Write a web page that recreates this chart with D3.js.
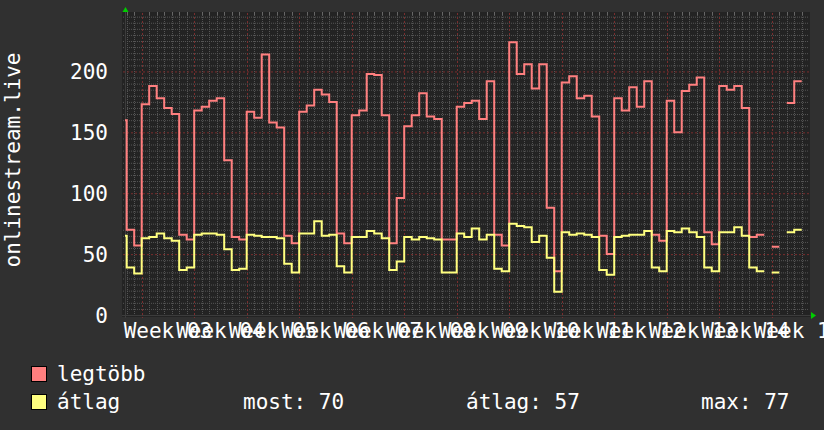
<!DOCTYPE html>
<html>
<head>
<meta charset="utf-8">
<script src="https://cdn.jsdelivr.net/npm/d3@7/dist/d3.min.js"></script>
<style>
  html, body { margin: 0; padding: 0; background: #303030; }
  svg { display: block; }
  text { font-family: "DejaVu Sans Mono", monospace; fill: #ffffff; }
</style>
</head>
<body>
<svg id="chart" width="824" height="430"></svg>
<script>
// ---- data (daily values, first day = Fri 2025-01-10) ----
const firstDay = "2025-01-10";
const legtobb = [
  160, 70, 57,
  173, 188, 178, 170, 165, 66, 62,
  168, 171, 176, 178, 127, 64, 62,
  167, 162, 214, 158, 154, 65, 59,
  167, 172, 185, 181, 175, 67, 59,
  164, 168, 198, 197, 164, 59, 96,
  155, 164, 182, 163, 161, 62, 62,
  171, 174, 176, 161, 192, 66, 57,
  224, 198, 206, 186, 206, 88, 36,
  191, 196, 178, 180, 163, 65, 50,
  178, 168, 187, 171, 192, 66, 61,
  176, 150, 184, 189, 195, 68, 58,
  188, 185, 188, 170, 64, 66, null,
  56, null, 174, 192
];
const atlag = [
  65, 39, 34,
  63, 64, 67, 63, 61, 37, 39,
  66, 67, 67, 66, 54, 37, 38,
  66, 65, 64, 64, 63, 42, 35,
  67, 67, 77, 65, 66, 40, 35,
  64, 64, 69, 67, 63, 37, 44,
  64, 62, 64, 63, 62, 35, 35,
  67, 64, 71, 62, 66, 38, 36,
  75, 73, 72, 60, 65, 47, 19,
  68, 66, 67, 66, 64, 37, 33,
  64, 65, 66, 66, 69, 39, 36,
  69, 68, 71, 68, 64, 39, 36,
  68, 68, 72, 65, 39, 36, null,
  35, null, 68, 70
];
const weekLabels = ["Week 03","Week 04","Week 05","Week 06","Week 07","Week 08","Week 09",
                    "Week 10","Week 11","Week 12","Week 13","Week 14","Week 15"];
const yTickValues = [0, 50, 100, 150, 200];
const seriesNames = ["legtöbb", "átlag"];
const seriesColors = ["#ff7f7f", "#ffff7f"];
const legendStats = [["most", 70], ["átlag", 57], ["max", 77]];
const yTitle = "onlinestream.live";
const timeStart = "2025-01-10T18:35:00Z";
const timeEnd = "2025-04-11T23:15:00Z";

// ---- layout ----
const W = 824, H = 430;
const L = 125, R = 809, T = 13, B = 315;
const svg = d3.select("#chart");

const x = d3.scaleUtc().domain([new Date(timeStart), new Date(timeEnd)]).range([L, R]);
const y = d3.scaleLinear().domain([0, 248]).range([B, T]);

// plot background
svg.append("rect").attr("x", L - 3).attr("y", T - 1).attr("width", R - L + 4).attr("height", B - T + 3)
  .attr("fill", "#232323");

const grid = svg.append("g");
// minor horizontal
const minorY = d3.range(0, 249, 5).filter(v => v % 50 !== 0);
grid.selectAll(".hmin").data(minorY).join("line")
  .attr("x1", L - 2).attr("x2", R).attr("y1", d => y(d) + 0.5).attr("y2", d => y(d) + 0.5)
  .attr("stroke", "#555").attr("stroke-width", 1).attr("stroke-dasharray", "1,1");
// minor vertical (daily)
const days = d3.utcDay.range(x.domain()[0], x.domain()[1]).filter(d => d.getUTCDay() !== 1);
grid.selectAll(".vmin").data(days).join("line")
  .attr("x1", d => Math.round(x(d)) + 0.5).attr("x2", d => Math.round(x(d)) + 0.5)
  .attr("y1", T).attr("y2", B + 2)
  .attr("stroke", "#555").attr("stroke-width", 1).attr("stroke-dasharray", "1,1");
// ticks at top/bottom for minor verticals
grid.selectAll(".vtick").data(days).join("line")
  .attr("x1", d => Math.round(x(d)) + 0.5).attr("x2", d => Math.round(x(d)) + 0.5)
  .attr("y1", T - 1).attr("y2", T + 2).attr("stroke", "#666");
// major horizontal
grid.selectAll(".hmaj").data(yTickValues).join("line")
  .attr("x1", L - 2).attr("x2", R).attr("y1", d => y(d) + 0.5).attr("y2", d => y(d) + 0.5)
  .attr("stroke", "#7a2e2e").attr("stroke-width", 1).attr("stroke-dasharray", "2,2");
// major vertical (weeks)
const weeks = d3.utcMonday.range(x.domain()[0], x.domain()[1]);
grid.selectAll(".vmaj").data(weeks).join("line")
  .attr("x1", d => Math.round(x(d)) + 0.5).attr("x2", d => Math.round(x(d)) + 0.5)
  .attr("y1", T).attr("y2", B + 3)
  .attr("stroke", "#7a2e2e").attr("stroke-width", 1).attr("stroke-dasharray", "2,2");

// axes lines
svg.append("line").attr("x1", L - 3).attr("x2", R + 2).attr("y1", B + 0.5).attr("y2", B + 0.5)
  .attr("stroke", "#3c3c3c");
svg.append("line").attr("x1", L + 0.5).attr("x2", L + 0.5).attr("y1", T - 2).attr("y2", B + 3)
  .attr("stroke", "#3c3c3c");
// arrows
svg.append("path").attr("d", `M${R + 2},${B - 3} L${R + 7},${B + 0.5} L${R + 2},${B + 4} Z`).attr("fill", "#00cc00");
svg.append("path").attr("d", `M${L - 2.5},${T - 1} L${L + 0.5},${T - 6} L${L + 3.5},${T - 1} Z`).attr("fill", "#00cc00");

// ---- series ----
const t0 = d3.utcParse("%Y-%m-%d")(firstDay);
function stepPoints(vals) {
  const pts = [];
  vals.forEach((v, i) => {
    const a = d3.utcDay.offset(t0, i), b = d3.utcDay.offset(t0, i + 1);
    if (v == null) { pts.push({ t: a, v: null }); return; }
    pts.push({ t: a, v }, { t: b, v });
  });
  return pts;
}
svg.append("clipPath").attr("id", "clip").append("rect")
  .attr("x", L).attr("y", T - 2).attr("width", R - L).attr("height", B - T + 4);
const line = d3.line().defined(d => d.v != null).x(d => x(d.t)).y(d => y(d.v));
[legtobb, atlag].forEach((vals, k) => {
  svg.append("path").datum(stepPoints(vals))
    .attr("clip-path", "url(#clip)")
    .attr("d", line).attr("fill", "none")
    .attr("stroke", seriesColors[k]).attr("stroke-width", 2)
    .attr("stroke-linejoin", "miter").attr("stroke-linecap", "butt");
});

// ---- axis labels ----
const fs = 21;
svg.selectAll(".ylab").data(yTickValues).join("text")
  .attr("x", 108).attr("y", d => y(d) + 7.5)
  .attr("text-anchor", "end").attr("font-size", fs).text(d => d);

svg.selectAll(".xlab").data(weeks.slice(0, weekLabels.length)).join("text")
  .attr("x", d => x(d3.utcHour.offset(d, 84))).attr("y", 338)
  .attr("text-anchor", "middle").attr("font-size", fs)
  .text((d, i) => weekLabels[i]);

svg.append("text").attr("transform", `translate(20,160) rotate(-90)`)
  .attr("text-anchor", "middle").attr("font-size", fs).text(yTitle);

// ---- legend ----
const lg = svg.append("g");
seriesNames.forEach((name, k) => {
  const yy = 366 + k * 28;
  lg.append("rect").attr("x", 31.5).attr("y", yy + 0.5).attr("width", 15).attr("height", 15)
    .attr("fill", seriesColors[k]).attr("stroke", "#000").attr("stroke-width", 1);
  lg.append("text").attr("x", 57).attr("y", yy + 14.5).attr("font-size", fs).text(name);
});
const statX = [243, 466, 701];
legendStats.forEach(([lab, v], i) => {
  lg.append("text").attr("x", statX[i]).attr("y", 408.5).attr("font-size", fs).text(`${lab}: ${v}`);
});
</script>
</body>
</html>
